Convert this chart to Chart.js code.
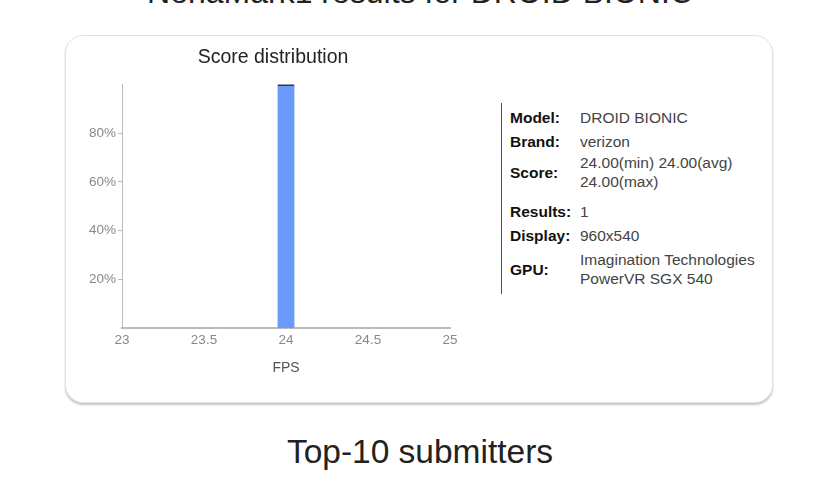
<!DOCTYPE html>
<html>
<head>
<meta charset="utf-8">
<script src="https://cdn.jsdelivr.net/npm/chart.js@4.4.1/dist/chart.umd.min.js"></script>
<style>
  html,body{margin:0;padding:0;background:#fff;}
  body{width:826px;height:500px;position:relative;overflow:hidden;font-family:"Liberation Sans",Helvetica,Arial,sans-serif;}
  #topTitle{position:absolute;left:20px;width:800px;top:-24px;text-align:center;font-size:32px;line-height:32px;color:#222;white-space:nowrap;}
  #card{position:absolute;left:65px;top:35px;width:706px;height:366px;border:1px solid #e2e2e2;border-radius:18px;box-shadow:0 2px 2px rgba(0,0,0,0.22);background:#fff;}
  #chartBox{position:absolute;left:70px;top:40px;width:400px;height:346px;}
  #info{position:absolute;left:501px;top:103px;width:1px;height:191px;background:#555;}
  .row{position:absolute;left:510px;display:flex;align-items:center;}
  .lab{font-weight:bold;color:#111;width:70px;font-size:15.5px;line-height:19px;}
  .val{color:#444;line-height:19px;font-size:15.5px;}
  #bottomTitle{position:absolute;left:20px;width:800px;top:435px;text-align:center;font-size:33.5px;line-height:33.5px;color:#222;}
</style>
</head>
<body>
<div id="topTitle"></div>
<div id="card"></div>
<div id="chartBox"><canvas id="c" width="400" height="346"></canvas></div>
<div id="info"></div>
<div id="bottomTitle"></div>
<script>
// ---- data ----
const fpsValues = [24];
const shareValues = [1.0];
const yTickValues = [0.2, 0.4, 0.6, 0.8];
const xTickValues = [23, 23.5, 24, 24.5, 25];
const infoLabels = ["Model:", "Brand:", "Score:", "Results:", "Display:", "GPU:"];
const infoValues = [
  ["DROID BIONIC"],
  ["verizon"],
  ["24.00(min) 24.00(avg)", "24.00(max)"],
  ["1"],
  ["960x540"],
  ["Imagination Technologies", "PowerVR SGX 540"]
];
const chartTitle = "Score distribution";
const xAxisTitle = "FPS";
const pageTitle = "NenaMark1 results for DROID BIONIC";
const sectionTitle = "Top-10 submitters";

// ---- layout (not data) ----
const rowCenters = [117, 141, 172, 211, 235, 269];

document.getElementById('topTitle').textContent = pageTitle;
document.getElementById('bottomTitle').textContent = sectionTitle;

infoLabels.forEach((lab, i) => {
  const row = document.createElement('div');
  row.className = 'row';
  const lines = infoValues[i];
  const h = lines.length * 19;
  row.style.top = (rowCenters[i] - h / 2) + 'px';
  row.style.height = h + 'px';
  const l = document.createElement('div'); l.className = 'lab'; l.textContent = lab;
  const v = document.createElement('div'); v.className = 'val';
  v.innerHTML = lines.map(s => s.replace(/&/g,'&amp;').replace(/</g,'&lt;')).join('<br>');
  row.appendChild(l); row.appendChild(v);
  document.body.appendChild(row);
});

const fontFam = '"Liberation Sans", Helvetica, Arial, sans-serif';

// shift the chart title so it is centred over the plot (y-axis area excluded on the left)
const titleShift = {
  id: 'titleShift',
  afterLayout(chart) {
    const t = chart.titleBlock;
    if (t) { t.left += 26; t.width = t.right - t.left; }
  }
};

new Chart(document.getElementById('c'), {
  type: 'bar',
  data: {
    datasets: [{
      data: fpsValues.map((x, i) => ({x: x, y: shareValues[i]})),
      backgroundColor: '#6b9bfa',
      borderColor: '#2b3a5e',
      borderWidth: {top: 2, left: 0, right: 0, bottom: 0},
      borderSkipped: 'bottom',
      barThickness: 17
    }]
  },
  plugins: [titleShift],
  options: {
    responsive: false,
    animation: false,
    layout: {padding: {left: 0, right: 20, top: 0, bottom: 0}},
    plugins: {
      legend: {display: false},
      tooltip: {enabled: false},
      title: {
        display: true,
        text: chartTitle,
        color: '#222',
        font: {family: fontFam, size: 19.5, weight: 'normal'},
        padding: {top: 6, bottom: 15}
      }
    },
    scales: {
      x: {
        type: 'linear',
        offset: false,
        min: 23, max: 25,
        afterBuildTicks: (ax) => { ax.ticks = xTickValues.map(v => ({value: v})); },
        ticks: {
          color: '#888',
          font: {family: fontFam, size: 13.5},
          padding: 4,
          maxRotation: 0,
          callback: (v) => String(v)
        },
        grid: {display: false, drawTicks: false},
        border: {display: true, color: '#bbb', width: 2},
        title: {
          display: true,
          text: xAxisTitle,
          color: '#555',
          font: {family: fontFam, size: 14},
          padding: {top: 8, bottom: 9}
        }
      },
      y: {
        min: 0, max: 1,
        afterBuildTicks: (ax) => { ax.ticks = yTickValues.map(v => ({value: v})); },
        afterFit: (ax) => { ax.width = 52; },
        ticks: {
          color: '#888',
          font: {family: fontFam, size: 13.5},
          padding: 2,
          callback: (v) => Math.round(v * 100) + '%'
        },
        grid: {display: true, drawOnChartArea: false, drawTicks: true, tickLength: 4, color: '#bbb'},
        border: {display: true, color: '#bbb', width: 1}
      }
    }
  }
});
</script>
</body>
</html>
